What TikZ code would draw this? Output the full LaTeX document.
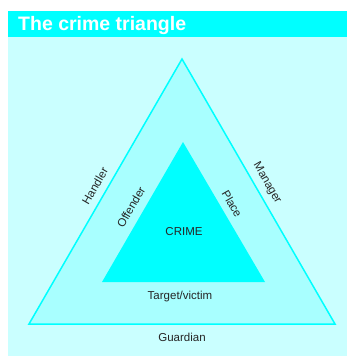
\documentclass[tikz,border=0pt]{standalone}
\usepackage{fontspec}
\setmainfont{Liberation Sans}
\definecolor{panelc}{RGB}{202,255,255}
\definecolor{bandc}{RGB}{168,255,255}
\definecolor{cyanc}{RGB}{0,255,255}
\begin{document}
\begin{tikzpicture}[x=1pt,y=-1pt,
  lbl/.style={inner sep=0pt,font=\fontsize{11.5}{13}\selectfont,text=black!85}]
\useasboundingbox (0,0) rectangle (347,356);
\fill[white] (0,0) rectangle (347,356);
\fill[panelc] (8,37) rectangle (347,356);
\fill[cyanc] (8,11) rectangle (347,37);
\node[anchor=base west,inner sep=0pt,text=white,font=\fontsize{19.5}{21}\bfseries] (title) at (18,30.5) {The crime triangle};
% outer triangle
\coordinate (oa) at (182,59);
\coordinate (ol) at (29,324);
\coordinate (or) at (335,324);
\filldraw[fill=bandc,draw=cyanc,line width=1.5pt,line join=miter] (oa) -- (ol) -- (or) -- cycle;
% inner triangle
\coordinate (ia) at (183,142);
\coordinate (il) at (102,282);
\coordinate (ir) at (265,282);
\fill[cyanc] (ia) -- (il) -- (ir) -- cycle;
% labels
\node[lbl] (crime) at (184,232) {CRIME};
\node[lbl] (target) at (180,297) {Target/victim};
\node[lbl] (guardian) at (182,337) {Guardian};
\node[lbl,rotate=60] (handler) at (95,186) {Handler};
\node[lbl,rotate=-60] (manager) at (267,183) {Manager};
\node[lbl,rotate=60] (offender) at (131,207) {Offender};
\node[lbl,rotate=-60] (place) at (232,204) {Place};
\end{tikzpicture}
\end{document}
